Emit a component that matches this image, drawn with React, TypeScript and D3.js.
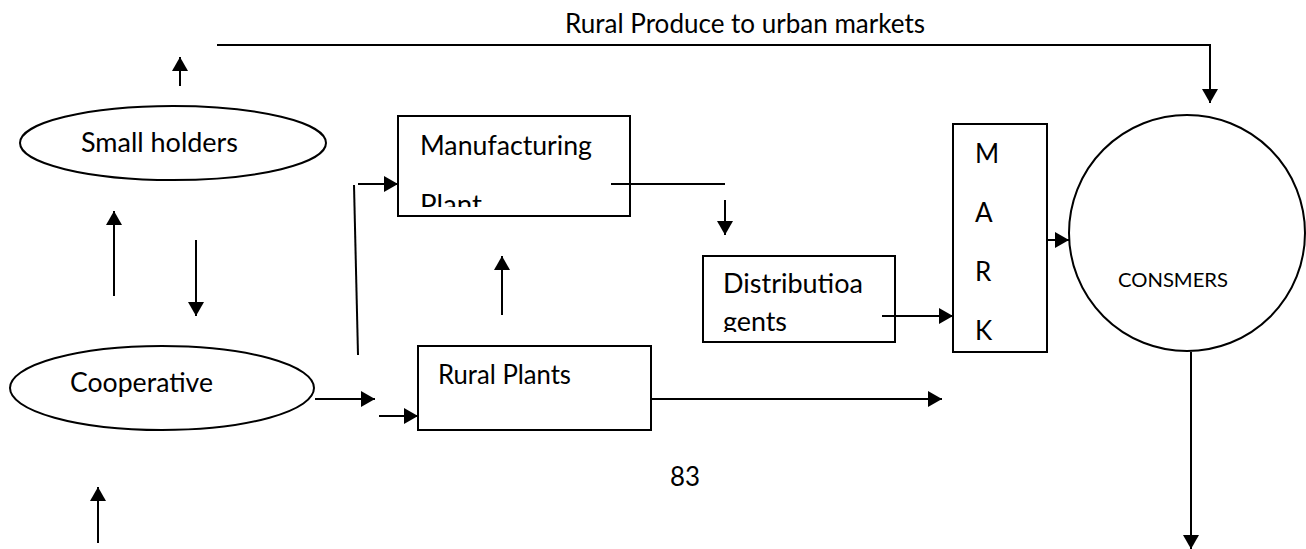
import React, { useEffect, useRef } from "react";
import * as d3 from "d3";

const W = 1306;
const H = 549;
const FONT = "Lato, 'Open Sans', sans-serif";

// Nodes of the flow diagram
const ellipses = [
  { id: "small", cx: 173, cy: 143, rx: 153, ry: 37 },
  { id: "coop", cx: 162, cy: 388, rx: 152, ry: 42 },
];
const rects = [
  { id: "manu", x: 398, y: 116, w: 232, h: 100, clipBottom: 207 },
  { id: "dist", x: 703, y: 256, w: 192, h: 86, clipBottom: 332 },
  { id: "mark", x: 953, y: 124, w: 94, h: 228, clipBottom: 352 },
  { id: "rural", x: 418, y: 346, w: 233, h: 84, clipBottom: 430 },
];
const circles = [{ id: "cons", cx: 1187, cy: 233, r: 118 }];

// Connectors: [points], head = arrowhead at last point
const arrows: { pts: [number, number][]; head: boolean }[] = [
  { pts: [[217, 45], [1210, 45], [1210, 103]], head: true },
  { pts: [[180, 86], [180, 57]], head: true },
  { pts: [[114, 296], [114, 211]], head: true },
  { pts: [[196, 240], [196, 316]], head: true },
  { pts: [[354, 185], [358, 355]], head: false },
  { pts: [[358, 184], [398, 184]], head: true },
  { pts: [[611, 184], [725, 184]], head: false },
  { pts: [[725, 200], [725, 235]], head: true },
  { pts: [[502, 315], [502, 256]], head: true },
  { pts: [[882, 316], [953, 316]], head: true },
  { pts: [[1047, 240], [1069, 240]], head: true },
  { pts: [[1191, 352], [1191, 549]], head: true },
  { pts: [[315, 399], [375, 399]], head: true },
  { pts: [[379, 416], [418, 416]], head: true },
  { pts: [[651, 399], [942, 399]], head: true },
  { pts: [[98, 543], [98, 487]], head: true },
];

// Text labels
const labels: { text: string; x: number; y: number; size: number; len?: number; clip?: string }[] = [
  { text: "Rural Produce to urban markets", x: 565, y: 33, size: 26, len: 360 },
  { text: "Small holders", x: 81, y: 152, size: 26, len: 157 },
  { text: "Manufacturing", x: 420, y: 155, size: 26, len: 172 },
  { text: "Plant", x: 420, y: 214, size: 26, len: 62, clip: "manu" },
  { text: "Distributioa", x: 723, y: 293, size: 26, len: 140 },
  { text: "gents", x: 723, y: 331, size: 26, len: 64, clip: "dist" },
  { text: "M", x: 975, y: 163, size: 26 },
  { text: "A", x: 975, y: 222, size: 26 },
  { text: "R", x: 975, y: 281, size: 26 },
  { text: "K", x: 975, y: 340, size: 26 },
  { text: "CONSMERS", x: 1118, y: 287, size: 19, len: 110 },
  { text: "Cooperative", x: 70, y: 392, size: 26, len: 143 },
  { text: "Rural Plants", x: 438, y: 384, size: 26, len: 133 },
  { text: "83", x: 670, y: 486, size: 26, len: 30 },
];

export default function App() {
  const ref = useRef<SVGSVGElement | null>(null);

  useEffect(() => {
    const svg = d3.select(ref.current);
    svg.selectAll("*").remove();

    svg.append("rect").attr("width", W).attr("height", H).attr("fill", "#fff");

    const defs = svg.append("defs");
    defs
      .append("marker")
      .attr("id", "ah")
      .attr("markerUnits", "userSpaceOnUse")
      .attr("viewBox", "0 0 14 16")
      .attr("refX", 14)
      .attr("refY", 8)
      .attr("markerWidth", 14)
      .attr("markerHeight", 16)
      .attr("orient", "auto")
      .append("path")
      .attr("d", "M0,0 L14,8 L0,16 Z")
      .attr("fill", "#000");

    rects.forEach((r) => {
      defs
        .append("clipPath")
        .attr("id", "clip-" + r.id)
        .append("rect")
        .attr("x", r.x)
        .attr("y", r.y)
        .attr("width", r.w)
        .attr("height", r.clipBottom - r.y);
    });

    const g = svg.append("g");

    g.selectAll("ellipse")
      .data(ellipses)
      .enter()
      .append("ellipse")
      .attr("cx", (d) => d.cx)
      .attr("cy", (d) => d.cy)
      .attr("rx", (d) => d.rx)
      .attr("ry", (d) => d.ry)
      .attr("fill", "none")
      .attr("stroke", "#000")
      .attr("stroke-width", 2);

    g.selectAll("rect.node")
      .data(rects)
      .enter()
      .append("rect")
      .attr("class", "node")
      .attr("x", (d) => d.x)
      .attr("y", (d) => d.y)
      .attr("width", (d) => d.w)
      .attr("height", (d) => d.h)
      .attr("fill", "none")
      .attr("stroke", "#000")
      .attr("stroke-width", 2);

    g.selectAll("circle")
      .data(circles)
      .enter()
      .append("circle")
      .attr("cx", (d) => d.cx)
      .attr("cy", (d) => d.cy)
      .attr("r", (d) => d.r)
      .attr("fill", "none")
      .attr("stroke", "#000")
      .attr("stroke-width", 2);

    const line = d3
      .line<[number, number]>()
      .x((d) => d[0])
      .y((d) => d[1]);

    g.selectAll("path.arrow")
      .data(arrows)
      .enter()
      .append("path")
      .attr("class", "arrow")
      .attr("d", (d) => line(d.pts))
      .attr("fill", "none")
      .attr("stroke", "#000")
      .attr("stroke-width", 2)
      .attr("marker-end", (d) => (d.head ? "url(#ah)" : null));

    g.selectAll("text")
      .data(labels)
      .enter()
      .append("text")
      .attr("x", (d) => d.x)
      .attr("y", (d) => d.y)
      .attr("font-family", FONT)
      .attr("font-size", (d) => d.size)
      .attr("fill", "#000")
      .attr("textLength", (d) => (d.len ? d.len : null))
      .attr("lengthAdjust", "spacingAndGlyphs")
      .attr("clip-path", (d) => (d.clip ? `url(#clip-${d.clip})` : null))
      .text((d) => d.text);
  }, []);

  return (
    <svg
      ref={ref}
      width={W}
      height={H}
      style={{ position: "absolute", left: 0, top: 0, display: "block" }}
    />
  );
}
